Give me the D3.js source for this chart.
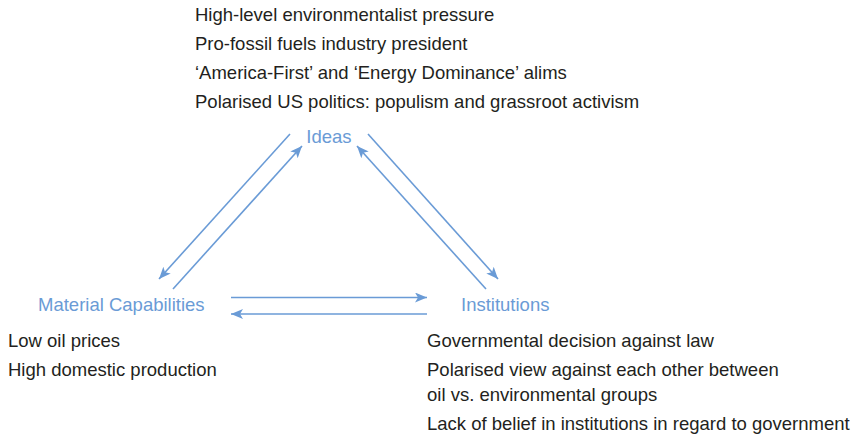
<!DOCTYPE html>
<html>
<head>
<meta charset="utf-8">
<script src="https://cdn.jsdelivr.net/npm/d3@7"></script>
<style>
  body { margin: 0; background: #fff; }
  text { font-family: "Liberation Sans", Arial, Helvetica, sans-serif; }
</style>
</head>
<body>
<script>
// node labels of the triangle
var nodes = ["Ideas", "Material Capabilities", "Institutions"];

// factors listed next to each node (one entry per line)
var ideasFactors = [
  "High-level environmentalist pressure",
  "Pro-fossil fuels industry president",
  "\u2018America-First\u2019 and \u2018Energy Dominance\u2019 alims",
  "Polarised US politics: populism and grassroot activism"
];
var materialFactors = [
  "Low oil prices",
  "High domestic production"
];
var institutionFactors = [
  ["Governmental decision against law"],
  ["Polarised view against each other between", "oil vs. environmental groups"],
  ["Lack of belief in institutions in regard to government"]
];

// arrows: from -> to (node index)
var links = [[0, 1], [1, 0], [0, 2], [2, 0], [1, 2], [2, 1]];

var width = 856, height = 436;
var blue = "#6a9bd6";
var ink = "#231f20";
var fs = 18.5;

var svg = d3.select("body")
  .append("svg")
  .attr("width", width)
  .attr("height", height);

// arrow marker
svg.append("defs")
  .append("marker")
  .attr("id", "head")
  .attr("viewBox", "0 0 12 10")
  .attr("refX", 12)
  .attr("refY", 5)
  .attr("markerWidth", 12)
  .attr("markerHeight", 10)
  .attr("markerUnits", "userSpaceOnUse")
  .attr("orient", "auto")
  .append("path")
  .attr("d", "M0,0 L12,5 L0,10 L3,5 Z")
  .attr("fill", blue);

// node label anchor points (label baseline)
var labelPos = [
  {x: 329, y: 143, anchor: "middle"},
  {x: 38, y: 311, anchor: "start"},
  {x: 461, y: 311, anchor: "start"}
];

svg.selectAll("text.node")
  .data(nodes)
  .enter()
  .append("text")
  .attr("class", "node")
  .attr("x", function(d, i){ return labelPos[i].x; })
  .attr("y", function(d, i){ return labelPos[i].y; })
  .attr("text-anchor", function(d, i){ return labelPos[i].anchor; })
  .attr("font-size", fs)
  .attr("fill", blue)
  .text(function(d){ return d; });

// arrow end points: for each ordered pair
var arrowPts = {
  "0-1": [[290, 134], [159, 279]],
  "1-0": [[173, 289], [302, 146]],
  "0-2": [[368, 134], [498, 279]],
  "2-0": [[486, 289], [357, 146]],
  "1-2": [[231, 297.5], [427, 297.5]],
  "2-1": [[427, 314], [231, 314]]
};

svg.selectAll("line.link")
  .data(links)
  .enter()
  .append("line")
  .attr("class", "link")
  .attr("x1", function(d){ return arrowPts[d[0] + "-" + d[1]][0][0]; })
  .attr("y1", function(d){ return arrowPts[d[0] + "-" + d[1]][0][1]; })
  .attr("x2", function(d){ return arrowPts[d[0] + "-" + d[1]][1][0]; })
  .attr("y2", function(d){ return arrowPts[d[0] + "-" + d[1]][1][1]; })
  .attr("stroke", blue)
  .attr("stroke-width", 1.6)
  .attr("marker-end", "url(#head)");

// line positions
var rowTop = d3.scaleLinear().domain([0, 1]).range([21, 50]);
var rowBottom = d3.scaleLinear().domain([0, 1]).range([347, 376]);

svg.selectAll("text.ideas")
  .data(ideasFactors)
  .enter()
  .append("text")
  .attr("class", "ideas")
  .attr("x", 195)
  .attr("y", function(d, i){ return rowTop(i); })
  .attr("font-size", fs)
  .attr("fill", ink)
  .text(function(d){ return d; });

svg.selectAll("text.material")
  .data(materialFactors)
  .enter()
  .append("text")
  .attr("class", "material")
  .attr("x", 8)
  .attr("y", function(d, i){ return rowBottom(i); })
  .attr("font-size", fs)
  .attr("fill", ink)
  .text(function(d){ return d; });

// institution factors: wrapped items have a tighter line gap
var lines = [];
var y = 347;
institutionFactors.forEach(function(item, k){
  if (k > 0) y += 29;
  item.forEach(function(t, j){
    if (j > 0) y += 25;
    lines.push({text: t, y: y});
  });
});

svg.selectAll("text.inst")
  .data(lines)
  .enter()
  .append("text")
  .attr("class", "inst")
  .attr("x", 427)
  .attr("y", function(d){ return d.y; })
  .attr("font-size", fs)
  .attr("fill", ink)
  .text(function(d){ return d.text; });
</script>
</body>
</html>
